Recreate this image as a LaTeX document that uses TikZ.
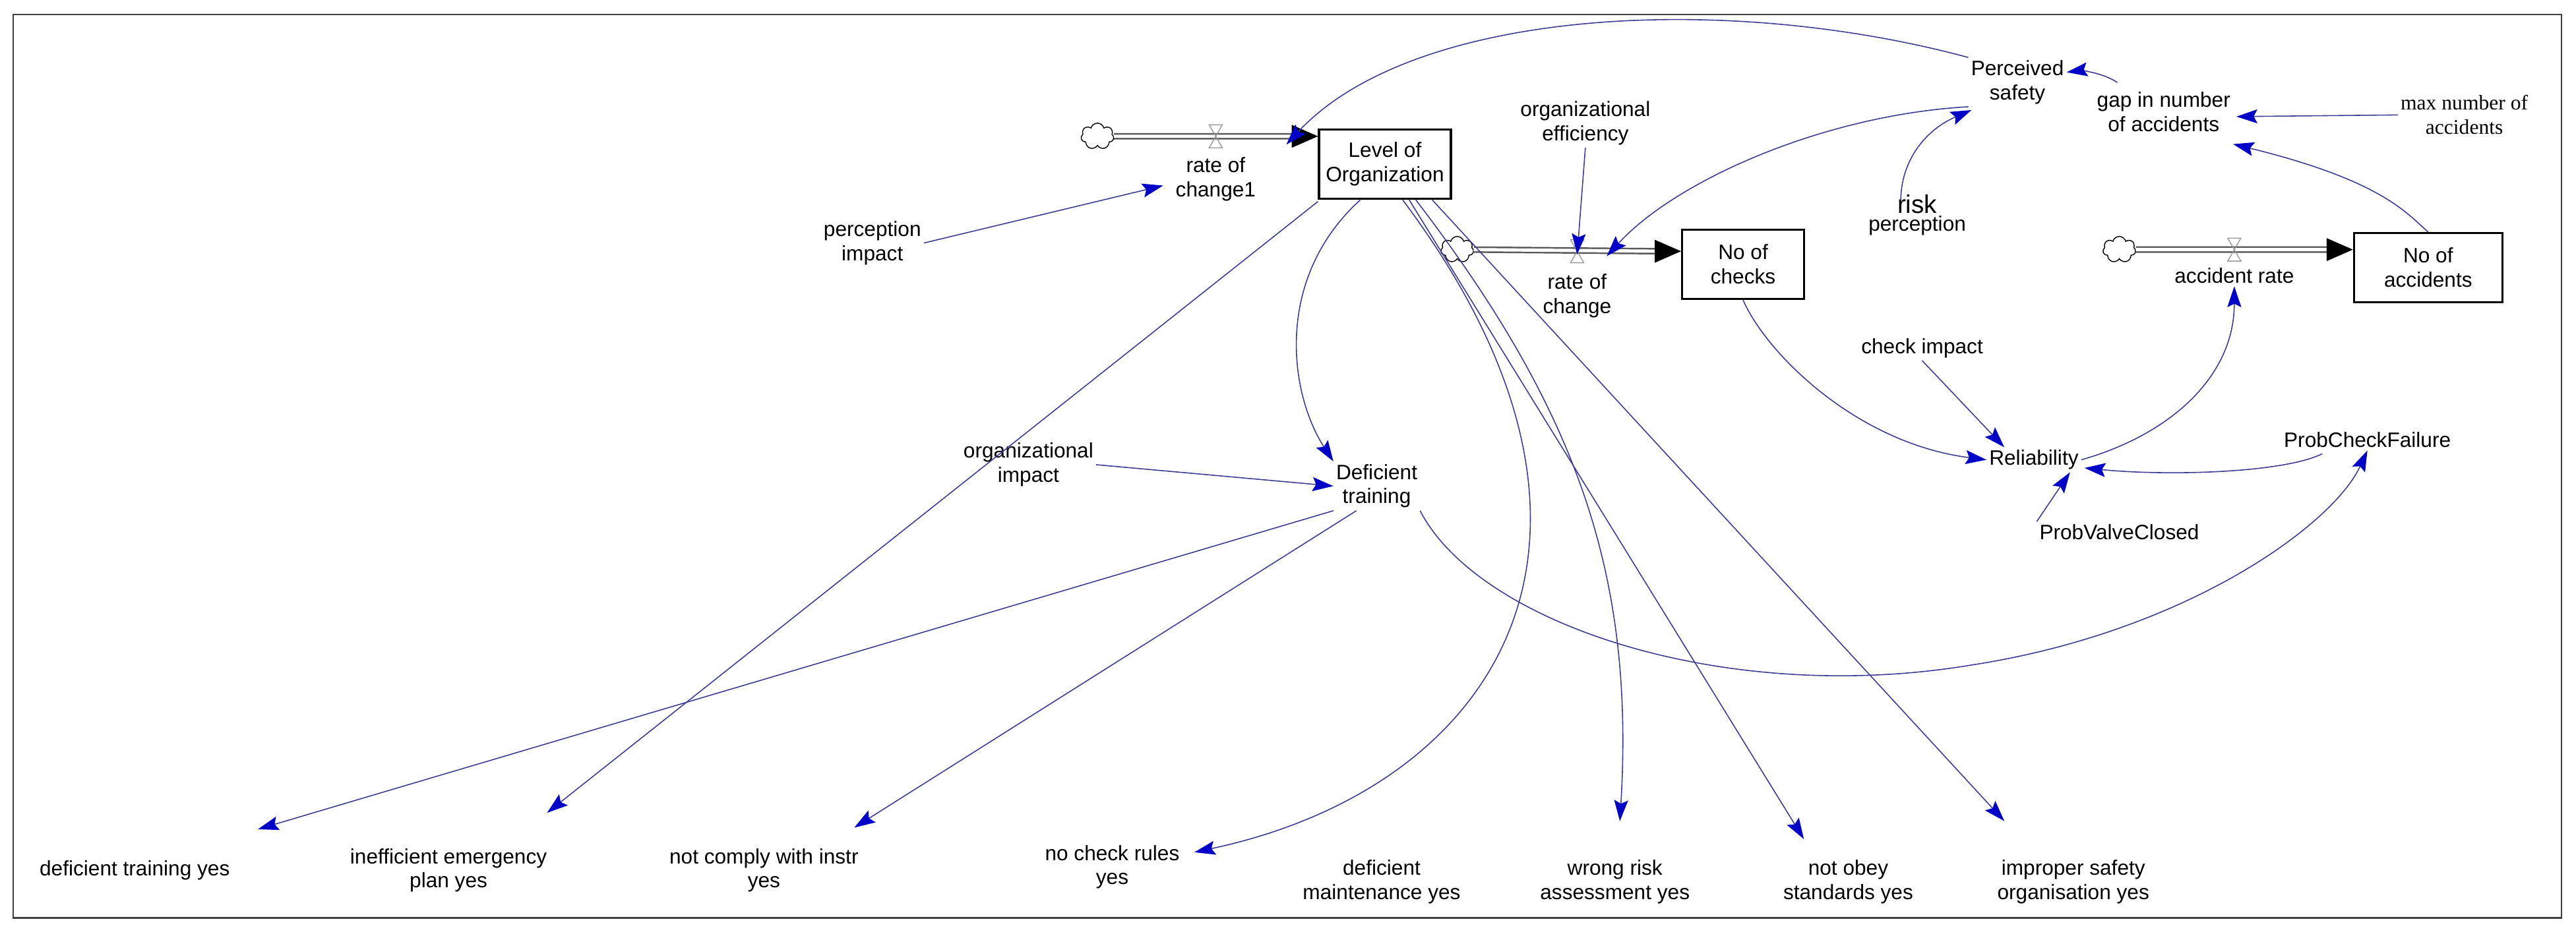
\documentclass[tikz,border=0pt]{standalone}
\usepackage{fontspec}
\setmainfont{Liberation Sans}
\newfontfamily\serifx{Liberation Serif}
\usetikzlibrary{arrows.meta,shapes.symbols,calc}
\definecolor{lnk}{RGB}{60,60,150}
\definecolor{hd}{RGB}{0,0,200}
\begin{document}
\begin{tikzpicture}[x=0.02491cm,y=-0.02491cm,
  every node/.style={font=\fontsize{9}{10.5}\selectfont,align=center,inner sep=1pt},
  lk/.style={draw=lnk,line width=0.45pt,-{Stealth[length=9pt,width=6pt,inset=1.5pt,fill=hd,color=hd]}},
  stock/.style={draw,line width=0.9pt,minimum width=2.0cm,minimum height=1.05cm,inner sep=2pt},
  pipe/.style={draw=black!65,double=white,double distance=1.4pt,line width=0.7pt},
  cl/.style={cloud,cloud puffs=7,draw,minimum width=0.5cm,minimum height=0.4cm,inner sep=0pt,line width=0.4pt}]
\useasboundingbox (0,0) rectangle (1568,571);
\draw[line width=0.6pt,black!75] (8,9) rectangle (1559,559);
% stocks
\node[stock] (lev) at (843,100) {Level of\\Organization};
\node[stock,minimum width=1.85cm] (chk) at (1061,161) {No of\\checks};
\node[stock,minimum width=2.25cm] (acc) at (1478,163) {No of\\accidents};
% clouds
\node[cl] (c1) at (668,83) {};
\node[cl] (c2) at (887,152) {};
\node[cl] (c3) at (1290,152) {};
% pipes
\draw[pipe] (c1.east) -- ($(lev.west)+(-12,-17)$);
\fill ($(lev.west)+(0,-17)$) -- ++(-16,-7) -- ++(0,14) -- cycle;
\draw[pipe] (c2.east) -- ($(chk.west)+(-12,-8)$);
\fill ($(chk.west)+(0,-8)$) -- ++(-16,-7) -- ++(0,14) -- cycle;
\draw[pipe] (c3.east) -- ($(acc.west)+(-12,-11)$);
\fill ($(acc.west)+(0,-11)$) -- ++(-16,-7) -- ++(0,14) -- cycle;
\draw[black!40,line width=0.4pt] (736,76) -- (744,76) -- (736,90) -- (744,90) -- cycle;
\draw[black!40,line width=0.4pt] (956,146) -- (964,146) -- (956,160) -- (964,160) -- cycle;
\draw[black!40,line width=0.4pt] (1356,145) -- (1364,145) -- (1356,159) -- (1364,159) -- cycle;
\coordinate (v1) at (783,88);
\coordinate (v2) at (960,155);
\coordinate (v2b) at (978,156);
\coordinate (rc1in) at (708,113);
% variables
\node (rc1) at (740,109) {rate of\\change1};
\node (rc) at (960,180) {rate of\\change};
\node (ar) at (1360,168) {accident rate};
\node (pi) at (531,148) {perception\\impact};
\node (oe) at (965,75) {organizational\\efficiency};
\node (ps) at (1228,50) {Perceived\\safety};
\node (gap) at (1317,68) {gap in number\\of accidents};
\node[font=\serifx\fontsize{9}{10.5}\selectfont] (max) at (1500,70) {max number of\\accidents};
\node (risk) at (1167,131) {\fontsize{11}{11}\selectfont risk\hspace{2.6em}\\[-3pt]perception};
\node (ci) at (1170,212) {check impact};
\node (rel) at (1238,280) {Reliability};
\node (pcf) at (1441,268) {ProbCheckFailure};
\node (pvc) at (1290,324) {ProbValveClosed};
\node (oi) at (626,283) {organizational\\impact};
\node (dt) at (838,296) {Deficient\\training};
% outcomes
\node (o1) at (82,530) {deficient training yes};
\node (o2) at (273,530) {inefficient emergency\\plan yes};
\node (o3) at (465,530) {not comply with instr\\yes};
\node (o4) at (677,528) {no check rules\\yes};
\node (o5) at (841,537) {deficient\\maintenance yes};
\node (o6) at (983,537) {wrong risk\\assessment yes};
\node (o7) at (1125,537) {not obey\\standards yes};
\node (o8) at (1262,537) {improper safety\\organisation yes};
% links
\draw[lk] (ps.north west) .. controls (1050,-5) and (860,5) .. (v1);
\draw[lk] (ps.south west) .. controls (1110,70) and (1020,110) .. (v2b);
\draw[lk] ($(gap.north west)+(14,-4)$) .. controls (1280,44) and (1265,43) .. ($(ps.east)+(0,-6)$);
\draw[lk] (max.west) -- ($(gap.east)+(2,3)$);
\draw[lk] (acc.north) .. controls (1465,130) and (1450,110) .. ($(gap.south east)+(0,6)$);
\draw[lk] (1157,122) .. controls (1157,100) and (1170,80) .. ($(ps.south)+(-28,2)$);
\draw[lk] (oe.south) -- (v2);
\draw[lk] (pi.east) -- (rc1in);
\draw[lk] (chk.south) .. controls (1075,215) and (1130,270) .. (rel.west);
\draw[lk] (ci.south) -- ($(rel.north)+(-18,0)$);
\draw[lk] (rel.east) .. controls (1320,265) and (1360,230) .. (ar.south);
\draw[lk] ($(pcf.south west)+(25,2)$) .. controls (1390,288) and (1320,290) .. ($(rel.east)+(2,5)$);
\draw[lk] (pvc.north west) -- ($(rel.south)+(22,0)$);
\draw[lk] ($(lev.south)+(-15,0)$) .. controls (775,170) and (785,240) .. (dt.north west);
\draw[lk] (oi.east) -- (dt.west);
\draw[lk] ($(lev.south west)+(0,1)$) -- (333,495);
\draw[lk] (dt.south west) -- (157,505);
\draw[lk] ($(dt.south west)+(14,0)$) -- (520,504);
\draw[lk] (dt.south east) .. controls (900,380) and (1050,430) .. (1200,405) .. controls (1330,385) and (1420,320) .. (pcf.south);
\draw[lk] ($(lev.south east)+(-30,0)$) .. controls (1010,330) and (910,480) .. (727,519);
\draw[lk] ($(lev.south east)+(-22,0)$) .. controls (960,250) and (995,350) .. (986,500);
\draw[lk] ($(lev.south east)+(-26,0)$) -- (1098,511);
\draw[lk] ($(lev.south east)+(-12,0)$) -- (1220,500);
\end{tikzpicture}
\end{document}
